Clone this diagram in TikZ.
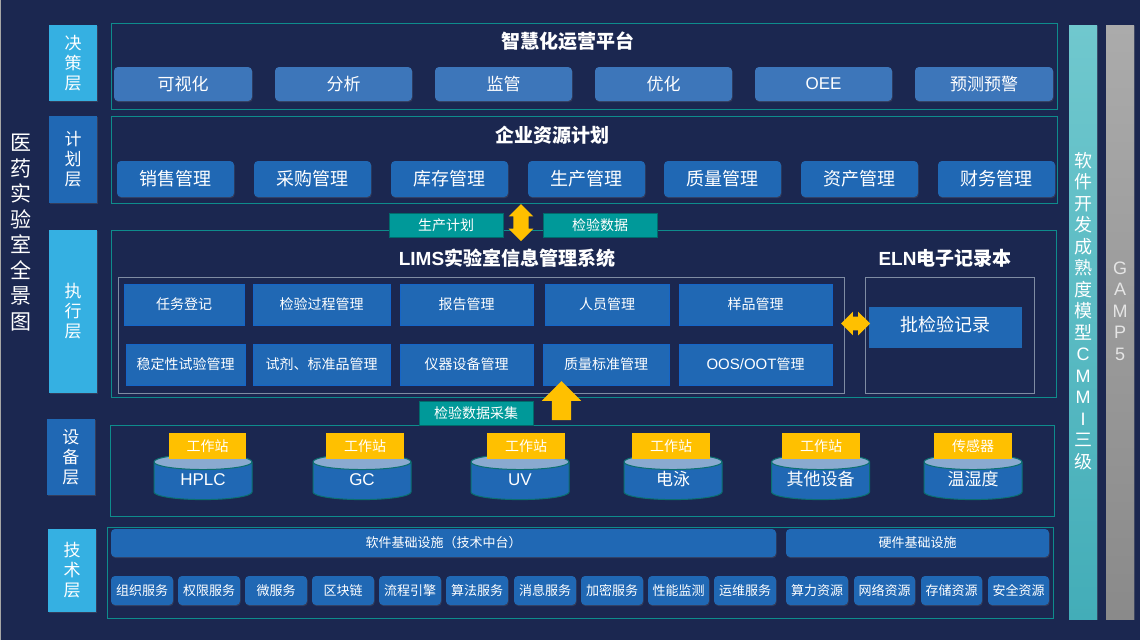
\documentclass[tikz,border=0pt]{standalone}
\usepackage{fontspec}
\setmainfont{Noto Sans CJK SC}
\newfontfamily\latf{Liberation Sans}
\usetikzlibrary{shapes.geometric,shapes.arrows,shadows}
\definecolor{bgc}{HTML}{1B2750}
\definecolor{skyc}{HTML}{35B0E2}
\definecolor{bluec}{HTML}{2068B4}
\definecolor{lightb}{HTML}{3D76BA}
\definecolor{tealc}{HTML}{0E8C8C}
\definecolor{tagc}{HTML}{009999}
\definecolor{gold}{HTML}{FFC000}
\definecolor{framec}{HTML}{7F8CA3}
\definecolor{modedge}{HTML}{1565C8}
\definecolor{cmmitop}{HTML}{70C8CE}
\definecolor{cmmibot}{HTML}{43ADB8}
\definecolor{gamptop}{HTML}{ABABAB}
\definecolor{gampbot}{HTML}{8A8A8A}
\definecolor{drumtop}{HTML}{8AAAD0}
\newcommand{\fsz}[2]{\fontsize{\dimexpr#1pt*3/4\relax}{\dimexpr#2pt*3/4\relax}\selectfont}
\tikzset{
  x=0.75pt,y=-0.75pt,
  base/.style={inner sep=0pt,outer sep=0pt,text=white,align=center},
  layerbox/.style={base,fill=#1,drop shadow={shadow xshift=.8pt,shadow yshift=-1pt,opacity=.25},font=\fsz{17}{20}},
  framebox/.style={base,draw=tealc,line width=0.75pt},
  innerframe/.style={base,draw=framec,line width=0.75pt},
  roundbtn/.style={base,fill=#1,rounded corners=3pt,drop shadow={shadow xshift=.5pt,shadow yshift=-.8pt,opacity=.25}},
  modbox/.style={base,fill=bluec,draw=modedge,line width=0.5pt,font=\fsz{14}{16}},
  tagbox/.style={base,fill=tagc,draw=tagc!70!black,line width=0.75pt,font=\fsz{14}{16}},
  goldtag/.style={base,fill=gold,font=\fsz{14}{16}},
  titletext/.style={base,font=\fsz{19}{21}\bfseries},
  drum/.style={base,cylinder,shape border rotate=90,shape aspect=0.22,draw=tealc!80!black,line width=0.75pt,
    cylinder uses custom fill,cylinder body fill=bluec,cylinder end fill=drumtop,
    minimum width=73.5pt,minimum height=34pt,text width=52pt,text height=10pt,text depth=3pt,font=\fsz{17}{20}},
  blockarrow/.style={fill=gold,draw=none,outer sep=0pt,inner xsep=0pt},
}
\newcommand{\bx}[7]{\node[#2,minimum width={(#5-#3)*0.75pt},minimum height={(#6-#4)*0.75pt}] (#1) at ({(#3+#5)/2},{(#4+#6)/2}) {#7};}
\begin{document}
\begin{tikzpicture}
\fill[bgc] (0,0) rectangle (1140,640);
\fill[gray!70] (0,0) rectangle (1,640);
\useasboundingbox (0,0) rectangle (1140,640);

% left title
\node[base,font=\fsz{21}{25.5}] (maintitle) at (21,232.5) {医\\药\\实\\验\\室\\全\\景\\图};

% layer labels
\bx{l1}{layerbox=skyc}{49}{25}{97}{101}{决\\策\\层}
\bx{l2}{layerbox=bluec}{49}{116}{97}{203}{计\\划\\层}
\bx{l3}{layerbox=skyc}{49}{230}{97}{393}{执\\行\\层}
\bx{l4}{layerbox=bluec}{47}{419}{95}{495}{设\\备\\层}
\bx{l5}{layerbox=skyc}{48}{529}{96}{612}{技\\术\\层}

% frames
\bx{f1}{framebox}{111}{23.5}{1057}{109.5}{}
\bx{f2}{framebox}{111}{116.5}{1057}{203.5}{}
\bx{f3}{framebox}{111}{230.5}{1056}{397.5}{}
\bx{f4}{framebox}{110.5}{425.5}{1054.5}{516.5}{}
\bx{f5}{framebox}{107.5}{527.5}{1053}{618}{}

% decision layer
\node[titletext] (t1) at (568,41) {智慧化运营平台};
\foreach \n/\a/\b/\s in {a/114/252/可视化,b/275/412/分析,c/435/572/监管,d/595/732/优化,e/755/892/{\latf OEE},f/915/1053/预测预警}{
  \bx{d\n}{roundbtn=lightb,font=\fsz{17}{20}}{\a}{67}{\b}{101}{\s}
}

% planning layer
\node[titletext] (t2) at (552.5,135) {企业资源计划};
\foreach \n/\a/\b/\s in {a/117/234/销售管理,b/254/371/采购管理,c/391/508/库存管理,d/528/645/生产管理,e/664/781/质量管理,f/801/918/资产管理,g/938/1055/财务管理}{
  \bx{p\n}{roundbtn=bluec,font=\fsz{18}{20}}{\a}{161}{\b}{197}{\s}
}

% tags and arrows between planning and execution
\bx{tg1}{tagbox}{389}{213}{503}{237}{生产计划}
\bx{tg2}{tagbox}{543}{213}{657}{237}{检验数据}
\node[blockarrow,double arrow,rotate=90,inner ysep=5.6pt,minimum height=27.75pt,double arrow head extend=3.4pt,double arrow head indent=0pt] (ar1) at (521,222.5) {};

% execution layer
\node[titletext] (t3) at (507,258) {{\latf\bfseries LIMS}实验室信息管理系统};
\node[titletext] (t4) at (945,258) {{\latf\bfseries ELN}电子记录本};
\bx{if1}{innerframe}{118.5}{277.5}{844}{393.5}{}
\bx{if2}{innerframe}{865.5}{277.5}{1034}{393.5}{}
\foreach \n/\a/\b/\s in {a/124/244/任务登记,b/253/390/检验过程管理,c/400/533/报告管理,d/545/669/人员管理,e/679/832/样品管理}{
  \bx{ma\n}{modbox}{\a}{284}{\b}{325}{\raisebox{-1.2pt}{\s}}
}
\foreach \n/\a/\b/\s in {a/126/245/稳定性试验管理,b/253/390/试剂、标准品管理,c/400/533/仪器设备管理,d/543/669/质量标准管理,e/679/832/{{\fsz{15}{16}\latf OOS/OOT}管理}}{
  \bx{mb\n}{modbox}{\a}{344}{\b}{385}{\raisebox{-1.2pt}{\s}}
}
\bx{eln}{base,fill=bluec,font=\fsz{18}{20}}{869}{307}{1022}{348}{\raisebox{5pt}{批检验记录}}
\node[blockarrow,double arrow,inner ysep=4.9pt,minimum height=21.75pt,double arrow head extend=3.75pt,double arrow head indent=0pt] (ar2) at (855.5,323.5) {};

% device layer tag + arrow
\bx{tg3}{tagbox}{419}{401}{533}{425}{检验数据采集}
\node[blockarrow,single arrow,rotate=90,inner ysep=7.1pt,minimum height=29.25pt,single arrow head extend=7.5pt,single arrow head indent=0pt] (ar3) at (561.5,405.5) {};

% cylinders
\foreach \n/\c/\s in {a/203/{\latf HPLC},b/362/{\latf GC},c/520/{\latf UV},d/673/电泳,e/820.5/其他设备,f/973/温湿度}{
  \node[drum] (cy\n) at (\c,481) {\s};
}
\foreach \n/\a/\b/\s in {a/169/246/工作站,b/326/404/工作站,c/487/565/工作站,d/632/710/工作站,e/782/860/工作站,f/934/1012/传感器}{
  \bx{gt\n}{goldtag}{\a}{433}{\b}{459}{\s}
}

% technology layer
\bx{sw}{roundbtn=bluec,font=\fsz{13}{15}}{111}{529}{776}{557}{软件基础设施（技术中台）}
\bx{hw}{roundbtn=bluec,font=\fsz{13}{15}}{786}{529}{1049}{557}{硬件基础设施}
\foreach \n/\a/\b/\s in {a/111/173/组织服务,b/178/240/权限服务,c/245/307/微服务,d/312/374/区块链,e/379/441/流程引擎,f/446/508/算法服务,g/514/576/消息服务,h/581/643/加密服务,i/648/709/性能监测,j/714/776/运维服务,k/786/848/算力资源,l/854/915/网络资源,m/921/982/存储资源,n/988/1049/安全资源}{
  \bx{s\n}{roundbtn=bluec,font=\fsz{13}{15}}{\a}{576}{\b}{605}{\s}
}

% right bars
\node[base,top color=cmmitop,bottom color=cmmibot,minimum width=21pt,minimum height=445.5pt,drop shadow={shadow xshift=.8pt,shadow yshift=-1pt,opacity=.25}] (cmmi) at (1083,322) {};
\node[base,font=\fsz{18}{21.5}] (cmmit) at (1083,311) {软\\件\\开\\发\\成\\熟\\度\\模\\型\\{\latf C}\\{\latf M}\\{\latf M}\\{\latf I}\\三\\级};
\node[base,top color=gamptop,bottom color=gampbot,minimum width=21pt,minimum height=445.5pt,drop shadow={shadow xshift=.8pt,shadow yshift=-1pt,opacity=.25}] (gamp) at (1120,322) {};
\node[base,font=\fsz{18}{21.5}\latf,text=white!90!black] (gampt) at (1120,311) {G\\A\\M\\P\\5};
\end{tikzpicture}
\end{document}
